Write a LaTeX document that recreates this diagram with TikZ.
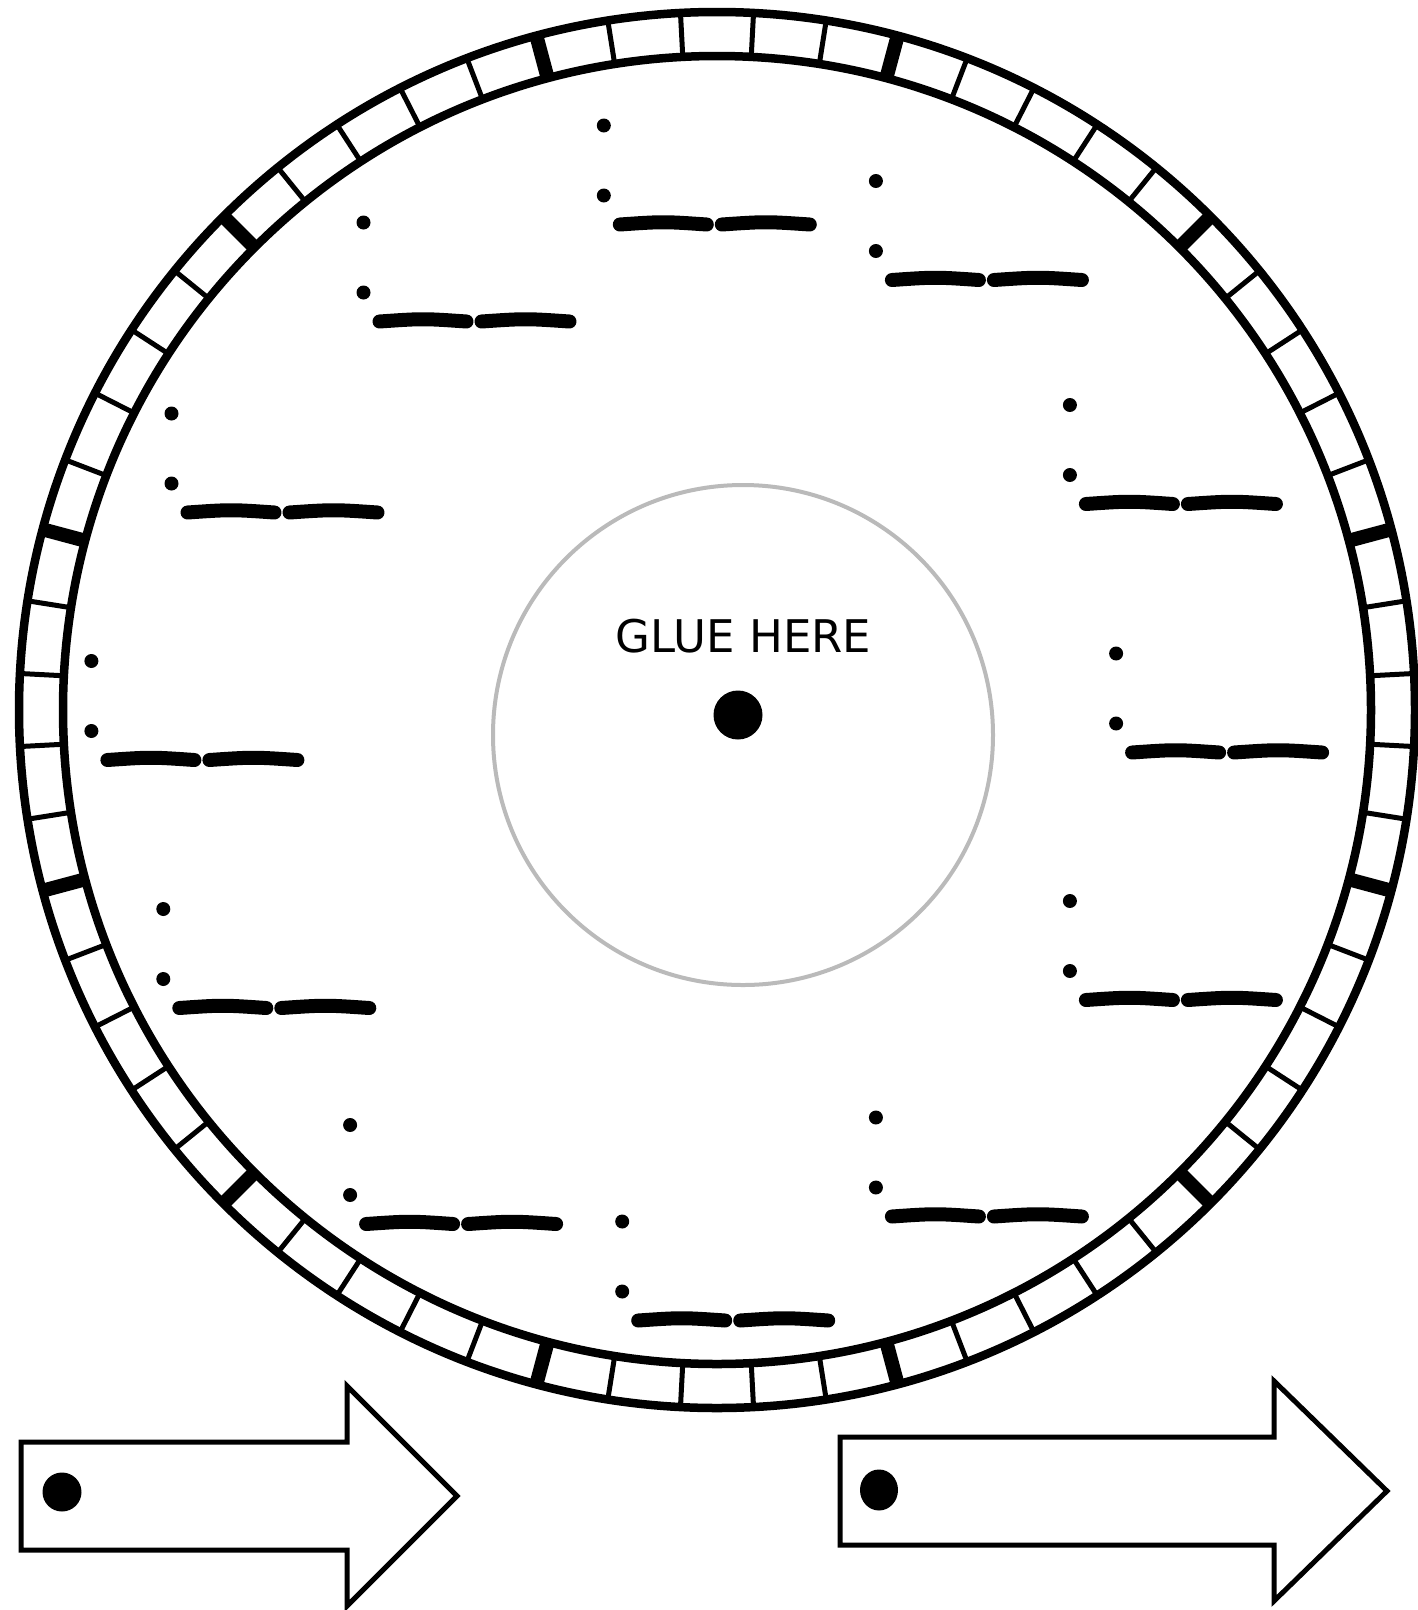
\documentclass[tikz,border=0pt]{standalone}
\usepackage{fontspec}
\newfontfamily\gluefont{DejaVu Sans}
\begin{document}
\begin{tikzpicture}[x=1pt,y=-1pt,
  ringline/.style={line width=8.5},
  thintick/.style={line width=5},
  thicktick/.style={line width=14},
  glueline/.style={draw=black!27,line width=4},
  dashline/.style={line width=14,line cap=round},
  slotdot/.style={fill=black},
  arrowshape/.style={draw=black,fill=white,line width=5,line join=miter}]
\useasboundingbox[fill=white] (0,0) rectangle (1418,1610);
% ring
\begin{scope}[shift={(717,710)}]
  \draw[ringline] (0,0) circle[radius=698];
  \draw[ringline] (0,0) circle[radius=654];
  \foreach \a in {3,9,...,357} \draw[thintick] (\a:654) -- (\a:698);
  \foreach \a in {15,45,...,345} \draw[thicktick] (\a:654) -- (\a:698);
\end{scope}
% glue circle
\draw[glueline] (743,735) circle[radius=250];
\node[inner sep=0pt,font=\gluefont\fontsize{45}{45}\selectfont] (glue) at (743.5,636.5) {GLUE HERE};
\fill (738,715) circle[radius=24.5];
% time slots
\foreach \x/\y in {603.8/125.5, 875.9/181.0, 1069.9/405.0, 1116.1/653.5, 1069.9/901.0, 875.9/1117.5, 622.2/1221.5, 350.1/1125.0, 163.3/909.0, 91.4/661.0, 171.5/413.5, 363.5/222.5} {
  \fill[slotdot] (\x,\y) circle[radius=7];
  \fill[slotdot] (\x,{\y+70}) circle[radius=7];
  \draw[dashline] ({\x+16},{\y+99}) .. controls ({\x+59.5},{\y+96}) .. ({\x+103},{\y+99});
  \draw[dashline] ({\x+118},{\y+99}) .. controls ({\x+162},{\y+96}) .. ({\x+206},{\y+99});
}
% arrows
\draw[arrowshape] (21,1442) -- (347,1442) -- (347,1386) -- (457,1496) -- (347,1606) -- (347,1550) -- (21,1550) -- cycle;
\fill (62,1492) circle[radius=19.5];
\draw[arrowshape] (840,1437) -- (1274,1437) -- (1274,1381) -- (1387,1491) -- (1274,1601) -- (1274,1545) -- (840,1545) -- cycle;
\fill (879,1490) ellipse[x radius=19,y radius=20.5];
\end{tikzpicture}
\end{document}
